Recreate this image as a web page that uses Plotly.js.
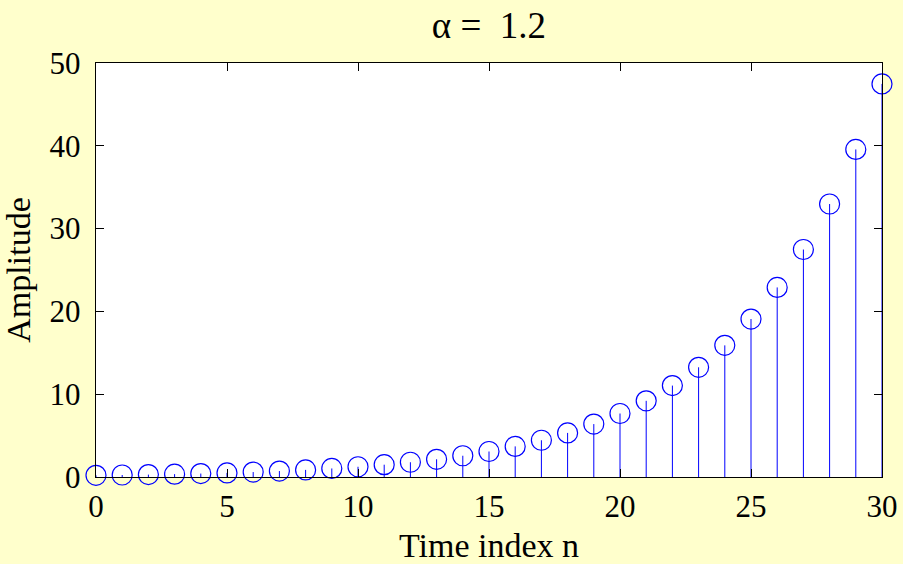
<!DOCTYPE html>
<html>
<head>
<meta charset="utf-8">
<script src="https://cdn.plot.ly/plotly-3.0.1.min.js"></script>
<style>html,body{margin:0;padding:0;background:#FFFFCC;}#chart{width:903px;height:564px;}</style>
</head>
<body>
<div id="chart"></div>
<script>
const n = [0,1,2,3,4,5,6,7,8,9,10,11,12,13,14,15,16,17,18,19,20,21,22,23,24,25,26,27,28,29,30];
const amplitude = [0.2,0.24,0.288,0.346,0.415,0.498,0.597,0.717,0.860,1.032,1.238,1.486,1.783,2.140,2.568,3.081,3.698,4.437,5.325,6.390,7.668,9.201,11.041,13.250,15.899,19.079,22.895,27.474,32.969,39.562,47.475];
const xTicks = [0,5,10,15,20,25,30];
const yTicks = [0,10,20,30,40,50];

const stemX = [], stemY = [];
n.forEach((v, i) => { stemX.push(v, v, null); stemY.push(0, amplitude[i], null); });

const blue = '#0000FF';
const serif = '"Liberation Serif", "Times New Roman", "DejaVu Serif", serif';
const tickFont = {family: serif, color: '#000000', size: 31};
const titleFont = {family: serif, color: '#000000', size: 34};

const data = [
  {x: stemX, y: stemY, mode: 'lines', line: {color: blue, width: 1}, hoverinfo: 'skip', cliponaxis: false},
  {x: n, y: amplitude, mode: 'markers', marker: {symbol: 'circle-open', size: 20, color: blue, line: {width: 1.2, color: blue}}, cliponaxis: false}
];

const axisCommon = {
  showgrid: false, zeroline: false, showline: true, linecolor: '#000', linewidth: 1.2,
  mirror: 'ticks', ticks: 'inside', ticklen: 8, tickcolor: '#000', tickwidth: 1,
  tickfont: tickFont
};

const layout = {
  width: 903, height: 564,
  paper_bgcolor: '#FFFFCC', plot_bgcolor: '#FFFFFF',
  showlegend: false,
  margin: {l: 96, r: 21, t: 63, b: 87},
  font: {family: serif, color: '#000000', size: 31},
  title: {text: 'α =\u00A0\u00A01.2', font: {family: serif, color: '#000000', size: 37},
    xref: 'paper', x: 0.5, xanchor: 'center', yref: 'container', y: 0.955, yanchor: 'middle'},
  xaxis: Object.assign({}, axisCommon, {range: [0, 30], tickvals: xTicks, ticktext: xTicks.map(String),
    ticklabelstandoff: 2,
    title: {text: 'Time index n', font: titleFont, standoff: 9}}),
  yaxis: Object.assign({}, axisCommon, {range: [0, 50], tickvals: yTicks, ticktext: yTicks.map(String),
    ticklabelstandoff: 8,
    title: {text: 'Amplitude', font: titleFont, standoff: 9}})
};

Plotly.newPlot('chart', data, layout, {displayModeBar: false, staticPlot: true});
</script>
</body>
</html>
